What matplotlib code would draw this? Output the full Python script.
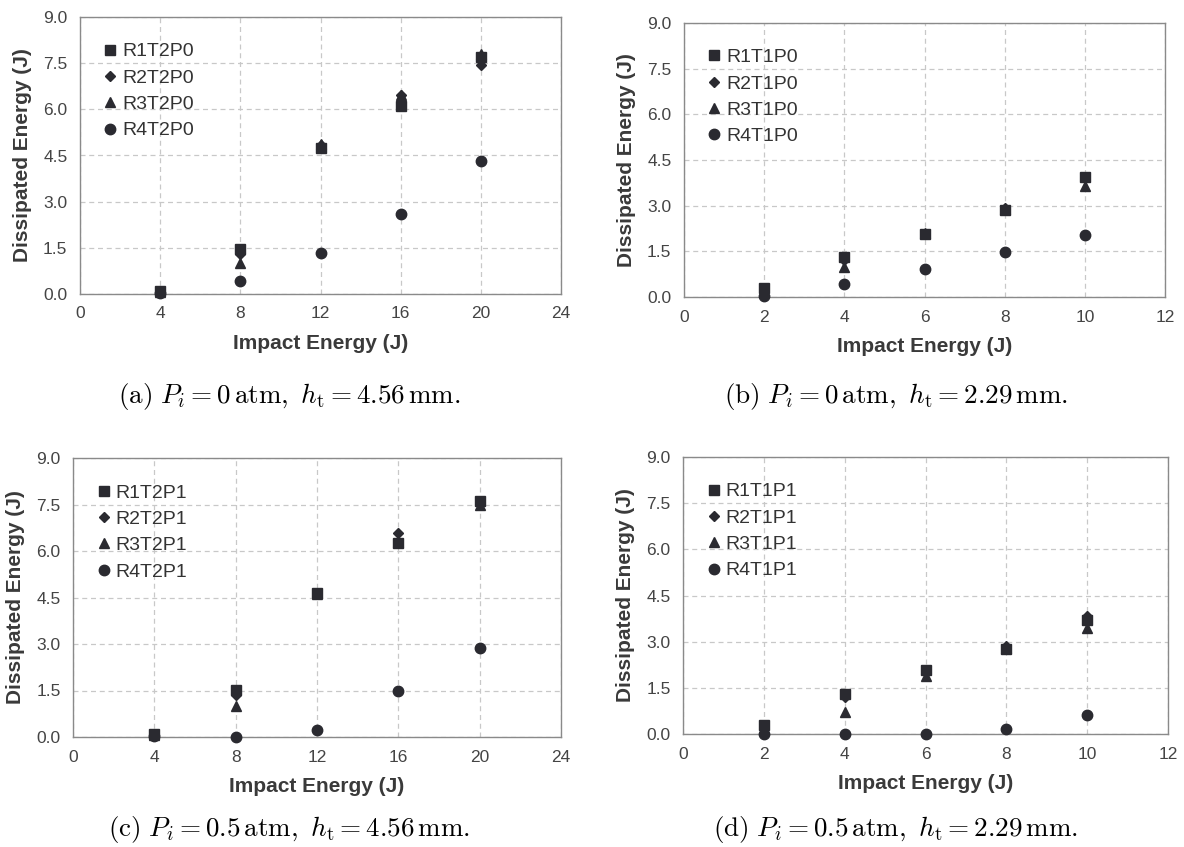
import matplotlib
matplotlib.use("Agg")
import matplotlib.pyplot as plt

# Impact energies (J)
energy_t2 = [4, 8, 12, 16, 20]
energy_t1 = [2, 4, 6, 8, 10]

# (a) Pi = 0 atm, ht = 4.56 mm
r1_t2p0 = [0.10, 1.46, 4.75, 6.11, 7.70]
r2_t2p0 = [0.08, 1.30, 4.85, 6.48, 7.43]
r3_t2p0 = [0.06, 1.00, 4.86, 6.45, 7.80]
r4_t2p0 = [0.04, 0.41, 1.33, 2.60, 4.32]

# (b) Pi = 0 atm, ht = 2.29 mm
r1_t1p0 = [0.29, 1.31, 2.07, 2.85, 3.95]
r2_t1p0 = [0.20, 1.20, 2.08, 2.93, 3.93]
r3_t1p0 = [0.15, 0.97, 2.10, 2.90, 3.66]
r4_t1p0 = [0.04, 0.44, 0.93, 1.48, 2.04]

# (c) Pi = 0.5 atm, ht = 4.56 mm
r1_t2p1 = [0.11, 1.51, 4.64, 6.25, 7.60]
r2_t2p1 = [0.07, 1.35, 4.62, 6.57, 7.55]
r3_t2p1 = [0.05, 0.99, 4.60, 6.30, 7.50]
r4_t2p1 = [0.02, 0.00, 0.24, 1.49, 2.88]

# (d) Pi = 0.5 atm, ht = 2.29 mm
r1_t1p1 = [0.29, 1.30, 2.08, 2.75, 3.70]
r2_t1p1 = [0.20, 1.20, 2.00, 2.85, 3.85]
r3_t1p1 = [0.15, 0.71, 1.89, 2.80, 3.43]
r4_t1p1 = [0.00, 0.00, 0.00, 0.16, 0.62]

yticks = [0.0, 1.5, 3.0, 4.5, 6.0, 7.5, 9.0]
markers = ["s", "D", "^", "o"]
msizes = [7.5, 5.0, 7.0, 7.5]
mcolor = "#2a2a30"

W, H = 1184, 847

panels = [
    # (rect in px: left, top, right, bottom), x, series, labels, xmax, xticks, caption
    ((80, 17, 561, 294), energy_t2, [r1_t2p0, r2_t2p0, r3_t2p0, r4_t2p0],
     ["R1T2P0", "R2T2P0", "R3T2P0", "R4T2P0"], 24, [0, 4, 8, 12, 16, 20, 24],
     r"$\mathrm{(a)}\ P_i = 0\,\mathrm{atm},\ h_{\mathrm{t}} = 4.56\,\mathrm{mm.}$", (289, 396)),
    ((684, 23, 1165, 297), energy_t1, [r1_t1p0, r2_t1p0, r3_t1p0, r4_t1p0],
     ["R1T1P0", "R2T1P0", "R3T1P0", "R4T1P0"], 12, [0, 2, 4, 6, 8, 10, 12],
     r"$\mathrm{(b)}\ P_i = 0\,\mathrm{atm},\ h_{\mathrm{t}} = 2.29\,\mathrm{mm.}$", (896, 396)),
    ((73, 458, 561, 737), energy_t2, [r1_t2p1, r2_t2p1, r3_t2p1, r4_t2p1],
     ["R1T2P1", "R2T2P1", "R3T2P1", "R4T2P1"], 24, [0, 4, 8, 12, 16, 20, 24],
     r"$\mathrm{(c)}\ P_i = 0.5\,\mathrm{atm},\ h_{\mathrm{t}} = 4.56\,\mathrm{mm.}$", (289, 829)),
    ((683, 457, 1168, 734), energy_t1, [r1_t1p1, r2_t1p1, r3_t1p1, r4_t1p1],
     ["R1T1P1", "R2T1P1", "R3T1P1", "R4T1P1"], 12, [0, 2, 4, 6, 8, 10, 12],
     r"$\mathrm{(d)}\ P_i = 0.5\,\mathrm{atm},\ h_{\mathrm{t}} = 2.29\,\mathrm{mm.}$", (896, 829)),
]

plt.rcParams["font.family"] = ["Liberation Sans", "DejaVu Sans"]
plt.rcParams["mathtext.fontset"] = "cm"

fig = plt.figure(figsize=(W / 100, H / 100), dpi=100)

for (l, t, r, b), xs, series, labels, xmax, xticks, caption, cap_pos in panels:
    ax = fig.add_axes([l / W, 1 - b / H, (r - l) / W, (b - t) / H])
    for ys, m, ms, lab in zip(series, markers, msizes, labels):
        ax.plot(xs, ys, linestyle="none", marker=m, markersize=ms,
                color=mcolor, label=lab, clip_on=False, zorder=3)
    ax.set_xlim(0, xmax)
    ax.set_ylim(0, 9)
    ax.set_xticks(xticks)
    ax.set_yticks(yticks)
    ax.set_yticklabels([f"{v:.1f}" for v in yticks])
    ax.grid(True, linestyle=(0, (4, 3)), color="#c8c8c8", linewidth=0.9)
    ax.set_axisbelow(True)
    for sp in ax.spines.values():
        sp.set_color("#8a8a8a")
        sp.set_linewidth(1.0)
    ax.tick_params(length=0, labelsize=12.5, labelcolor="#444444")
    ax.tick_params(axis="x", pad=9)
    ax.tick_params(axis="y", pad=9)
    ax.set_xlabel("Impact Energy (J)", fontsize=15, fontweight="bold",
                  color="#3a3a3a", labelpad=9)
    ax.set_ylabel("Dissipated Energy (J)", fontsize=15, fontweight="bold",
                  color="#3a3a3a", labelpad=8)
    ax.legend(loc="upper left", bbox_to_anchor=(0.035, 0.935), frameon=False,
              fontsize=14, handlelength=0.6, handletextpad=0.3,
              labelspacing=0.45, borderaxespad=0, labelcolor="#333333")
    fig.text(cap_pos[0] / W, 1 - cap_pos[1] / H, caption, ha="center",
             va="center", fontsize=19.5)

fig.savefig("out.png", dpi=100)
